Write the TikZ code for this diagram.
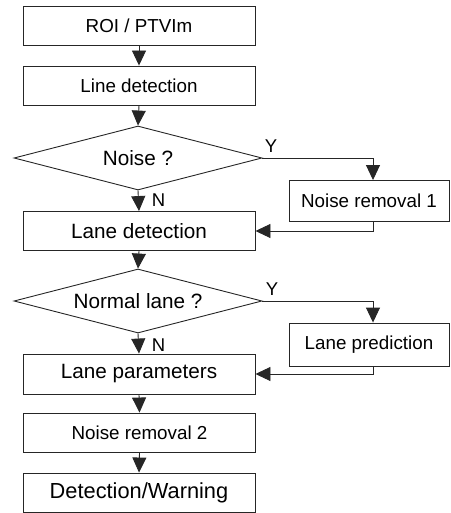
\documentclass[tikz,border=0pt]{standalone}
\usepackage{fontspec}
\setmainfont{Liberation Sans}
\usetikzlibrary{shapes.geometric,arrows.meta}
\begin{document}
\begin{tikzpicture}[x=1pt,y=-1pt,
  box/.style={draw=black!85,line width=0.9pt,rectangle,inner sep=0pt,minimum width=232pt,minimum height=39pt},
  sidebox/.style={draw=black!85,line width=0.9pt,rectangle,inner sep=0pt,minimum width=160pt,minimum height=41pt},
  dec/.style={draw=black!85,line width=0.9pt,diamond,aspect=3.9,inner sep=0pt,minimum width=248pt,minimum height=64pt},
  arr/.style={draw=black!85,line width=0.9pt,-{Triangle[width=14pt,length=15pt]}},
  lbl/.style={font=\fontsize{18.5}{20}\selectfont,inner sep=0pt},
  fs/.style={font=\fontsize{18.8}{21}\selectfont},
  fl/.style={font=\fontsize{20.7}{23}\selectfont}]
\useasboundingbox (0,0) rectangle (450,513);
\node[box,fs] (roi) at (139,25.5) {ROI / PTVIm};
\node[box,fs] (line) at (139,85.5) {Line detection};
\node[dec,fl] (noise) at (138,158) {Noise ?};
\node[sidebox,fs] (nr1) at (369,201) {Noise removal 1};
\node[box,fl] (lanedet) at (139,231) {Lane detection};
\node[dec,fl] (normal) at (138,301) {Normal lane ?};
\node[sidebox,fs,minimum height=43pt] (lp) at (369,344.5) {Lane prediction};
\node[box,fl,minimum height=40pt] (lparam) at (139,374) {Lane parameters};
\node[box,fs] (nr2) at (139.5,432.5) {Noise removal 2};
\node[box,font=\fontsize{21.8}{24}\selectfont] (dw) at (139,492.5) {Detection/Warning};
\coordinate (b1) at (373,0);
\draw[arr] (roi.south) -- (line.north);
\draw[arr] (line.south) -- (noise.north);
\draw[arr] (noise.south) -- (lanedet.north);
\draw[arr] (noise.east) -| (nr1.north -| b1);
\draw[arr] (nr1.south -| b1) |- (lanedet.east);
\draw[arr] (lanedet.south) -- (normal.north);
\draw[arr] (normal.south) -- (lparam.north);
\draw[arr] (normal.east) -| (lp.north -| b1);
\draw[arr] (lp.south -| b1) |- (lparam.east);
\draw[arr] (lparam.south) -- (nr2.north);
\draw[arr] (nr2.south) -- (dw.north);
\node[lbl] (y1) at (271,146) {Y};
\node[lbl] (n1) at (158.5,200) {N};
\node[lbl] (y2) at (272,289) {Y};
\node[lbl] (n2) at (158.5,345) {N};
\end{tikzpicture}
\end{document}
